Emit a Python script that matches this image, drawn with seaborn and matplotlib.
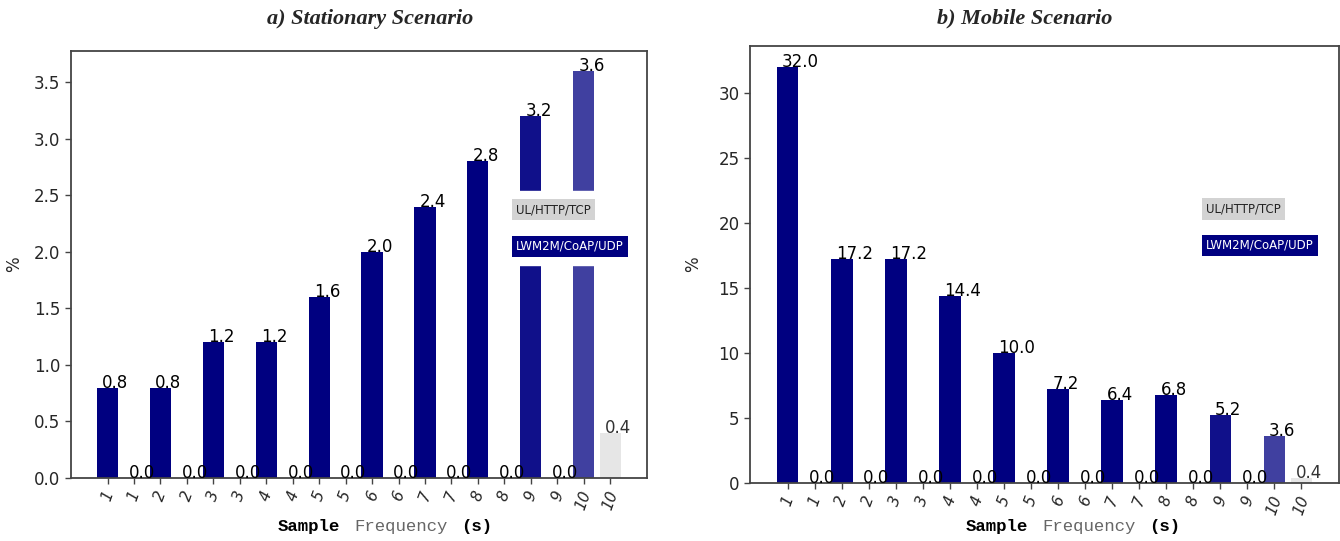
import numpy as np
import pandas as pd
import matplotlib
matplotlib.use("Agg")
import matplotlib.pyplot as plt
import seaborn as sns
from matplotlib.patches import Patch
from matplotlib.offsetbox import TextArea, HPacker, AnnotationBbox

sns.set_theme(style="white")
plt.rcParams['font.family'] = ['DejaVu Sans']

# ---- data ----
freqs = [1, 2, 3, 4, 5, 6, 7, 8, 9, 10]
stationary_coap = [0.8, 0.8, 1.2, 1.2, 1.6, 2.0, 2.4, 2.8, 3.2, 3.6]
stationary_http = [0.0, 0.0, 0.0, 0.0, 0.0, 0.0, 0.0, 0.0, 0.0, 0.4]
mobile_coap = [32.0, 17.2, 17.2, 14.4, 10.0, 7.2, 6.4, 6.8, 5.2, 3.6]
mobile_http = [0.0, 0.0, 0.0, 0.0, 0.0, 0.0, 0.0, 0.0, 0.0, 0.4]

coap_colors = ['#000080'] * 8 + ['#10108a', '#4040a0']
http_color = '#e6e6e6'


def build_frame(coap, http):
    rows = []
    for i, f in enumerate(freqs):
        rows.append({'pos': 2 * i, 'freq': f, 'value': coap[i], 'color': coap_colors[i]})
        rows.append({'pos': 2 * i + 1, 'freq': f, 'value': http[i], 'color': http_color})
    return pd.DataFrame(rows)


def draw_panel(ax, df, title, title_x, xlabel_x, ylabel_pad):
    sns.barplot(data=df, x='pos', y='value', hue='pos', palette=list(df['color']),
                legend=False, saturation=1, width=0.8, linewidth=0, ax=ax)
    n = len(df)
    ax.set_xlim(-1.39, n - 1 + 1.39)
    ax.set_ylim(0, df['value'].max() * 1.05)

    # value labels
    for _, r in df.iterrows():
        col = '#333333' if r['color'] == http_color and r['value'] > 0 else 'black'
        ax.text(r['pos'] - 0.2, r['value'], f"{r['value']:.1f}", ha='left',
                va='baseline', fontsize=12, color=col)

    ax.set_xticks(range(n))
    ax.set_xticklabels([str(f) for f in df['freq']], rotation=70, style='italic',
                       fontsize=11)
    ax.tick_params(axis='both', which='both', length=4, width=1, color='#444444',
                   bottom=True, left=True)
    ax.tick_params(axis='y', labelsize=12)
    ax.set_xlabel('')
    ax.set_ylabel('%', fontsize=12, labelpad=ylabel_pad)
    for sp in ax.spines.values():
        sp.set_color('#444444')
        sp.set_linewidth(1.3)

    # legend drawn as coloured text boxes
    handles = [Patch(color='none'), Patch(color='none')]
    leg = ax.legend(handles, ['UL/HTTP/TCP', 'LWM2M/CoAP/UDP'], loc='center',
                    bbox_to_anchor=(0.866, 0.585), handlelength=0, handletextpad=0,
                    labelspacing=2.0, fontsize=8.5, frameon=True, framealpha=1,
                    edgecolor='white', facecolor='white', borderpad=1.0)
    t1, t2 = leg.get_texts()
    t1.set_color('#222222')
    t1.set_bbox(dict(boxstyle='square,pad=0.35', fc='#d3d3d3', ec='none'))
    t2.set_color('white')
    t2.set_bbox(dict(boxstyle='square,pad=0.35', fc='#000080', ec='none'))

    fig.text(title_x, 0.965, title, ha='center', va='center', fontsize=16,
             family='Liberation Serif', weight='bold', style='italic')

    # x label: mixed bold / grey monospace parts
    parts = [TextArea('Sample', textprops=dict(family='Liberation Mono', weight='bold',
                                                 size=12.5, color='black')),
             TextArea('Frequency', textprops=dict(family='Liberation Mono',
                                                    size=12.5, color='#666666')),
             TextArea('(s)', textprops=dict(family='Liberation Mono', weight='bold',
                                              size=12.5, color='black'))]
    box = HPacker(children=parts, align='baseline', pad=0, sep=10)
    ab = AnnotationBbox(box, (xlabel_x, 14), xycoords='figure pixels',
                        box_alignment=(0.5, 0.5), frameon=False)
    fig.add_artist(ab)


fig = plt.figure(figsize=(13.4, 5.41), dpi=100)
ax1 = fig.add_axes([0.0528, 0.1165, 0.430, 0.790])
ax2 = fig.add_axes([0.5597, 0.1072, 0.4396, 0.8083])

draw_panel(ax1, build_frame(stationary_coap, stationary_http),
           'a) Stationary Scenario', 370 / 1340, 385, 8)
draw_panel(ax2, build_frame(mobile_coap, mobile_http),
           'b) Mobile Scenario', 1025 / 1340, 1073, 12)

ax1.set_yticks(np.arange(0, 3.51, 0.5))
ax2.set_yticks(np.arange(0, 31, 5))

fig.savefig('out.png', dpi=100)
